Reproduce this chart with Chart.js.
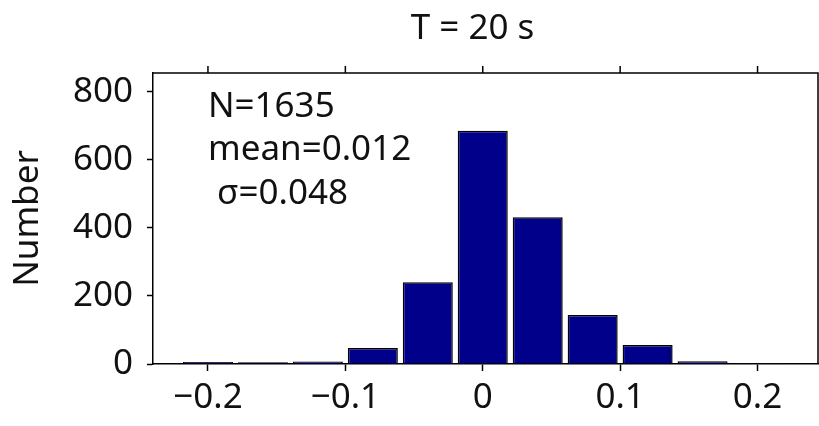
<!DOCTYPE html>
<html>
<head>
<meta charset="utf-8">
<script src="https://cdn.jsdelivr.net/npm/chart.js@4/dist/chart.umd.min.js"></script>
<style>
  html, body { margin: 0; padding: 0; background: #ffffff; }
  #wrap { width: 819px; height: 426px; }
</style>
</head>
<body>
<div id="wrap"><canvas id="c" width="819" height="426"></canvas></div>
<script>
const titleText = "T = 20 s";
const yAxisLabel = "Number";
const binCenters = [-0.2, -0.16, -0.12, -0.08, -0.04, 0, 0.04, 0.08, 0.12, 0.16, 0.2];
const counts = [6, 5, 7, 47, 240, 685, 431, 144, 56, 8, 3];
const xTicks = [-0.2, -0.1, 0, 0.1, 0.2];
const yTicks = [0, 200, 400, 600, 800];
const statLines = ["N=1635", "mean=0.012", " \u03c3=0.048"];
const statYValues = [727, 600, 470];
const xMin = -0.24, xMax = 0.244, yMin = 0, yMax = 855;

const FONT = "'Noto Sans', 'DejaVu Sans', sans-serif";
const FS = 35;

const fmt = v => {
  if (Math.abs(v) < 1e-9) return "0";
  const s = Math.abs(v).toFixed(1);
  return (v < 0 ? "\u2212" : "") + s;
};

const framePlugin = {
  id: 'frame',
  afterDraw(chart) {
    const {ctx, chartArea: a, scales} = chart;
    ctx.save();
    ctx.strokeStyle = '#000';
    ctx.lineWidth = 1.5;
    ctx.beginPath();
    ctx.moveTo(a.left, a.top);
    ctx.lineTo(a.right, a.top);
    ctx.lineTo(a.right, a.bottom);
    ctx.stroke();
    // top ticks (outward)
    xTicks.forEach(v => {
      const px = scales.x.getPixelForValue(v);
      ctx.beginPath();
      ctx.moveTo(px, a.top);
      ctx.lineTo(px, a.top - 7);
      ctx.stroke();
    });
    // title
    ctx.fillStyle = '#111';
    ctx.font = `${FS}px ${FONT}`;
    ctx.textAlign = 'center';
    ctx.textBaseline = 'alphabetic';
    ctx.fillText(titleText, (a.left + a.right) / 2 - 13, a.top - 34);
    // stats annotation
    ctx.textAlign = 'left';
    const tx = scales.x.getPixelForValue(xTicks[0]);
    statLines.forEach((t, i) => {
      ctx.fillText(t, tx, scales.y.getPixelForValue(statYValues[i]));
    });
    ctx.restore();
  }
};

new Chart(document.getElementById('c'), {
  type: 'bar',
  data: {
    datasets: [{
      data: binCenters.map((x, i) => ({x: x, y: counts[i]})),
      backgroundColor: '#00008a',
      borderColor: '#000000',
      borderWidth: 1.5,
      categoryPercentage: 1.0,
      barPercentage: 0.91
    }]
  },
  options: {
    responsive: false,
    animation: false,
    devicePixelRatio: 1,
    layout: { padding: { top: 73, right: 1, left: 0, bottom: 0 } },
    plugins: { legend: { display: false }, tooltip: { enabled: false }, title: { display: false } },
    scales: {
      x: {
        type: 'linear',
        min: xMin, max: xMax,
        offset: false,
        afterBuildTicks: s => { s.ticks = xTicks.map(v => ({value: v})); },
        afterFit: s => { s.height = 62; },
        ticks: {
          color: '#111',
          font: { family: FONT, size: FS },
          padding: 6,
          maxRotation: 0,
          autoSkip: false,
          callback: v => fmt(v)
        },
        grid: { display: true, offset: false, drawOnChartArea: false, drawTicks: true, tickLength: 7, tickColor: '#000', tickWidth: 1.5 },
        border: { display: true, color: '#000', width: 1.5 }
      },
      y: {
        min: yMin, max: yMax,
        afterBuildTicks: s => { s.ticks = yTicks.map(v => ({value: v})); },
        afterFit: s => { s.width = 153; },
        ticks: {
          color: '#111',
          font: { family: FONT, size: FS },
          padding: 14,
          callback: v => String(v)
        },
        grid: { display: true, offset: false, drawOnChartArea: false, drawTicks: true, tickLength: 6, tickColor: '#000', tickWidth: 1.5 },
        border: { display: true, color: '#000', width: 1.5 },
        title: {
          display: true,
          text: yAxisLabel,
          color: '#111',
          font: { family: FONT, size: FS },
          padding: { top: 7, bottom: 0 }
        }
      }
    }
  },
  plugins: [framePlugin]
});
</script>
</body>
</html>
